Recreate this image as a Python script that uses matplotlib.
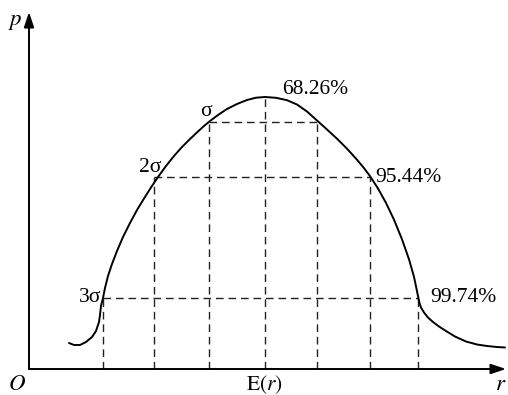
import matplotlib
matplotlib.use("Agg")
import matplotlib.pyplot as plt

plt.rcParams['font.family'] = ['Liberation Serif', 'DejaVu Serif']
plt.rcParams['mathtext.fontset'] = 'stix'

# Probability density curve p(r) (axis origin at O)
curve_r = [40, 45, 51, 57, 63, 67, 70, 71, 72, 74,
           76, 79, 83, 88, 94, 101, 108, 115, 122, 129,
           137, 145, 153, 161, 169, 175, 181,
           189, 198, 208, 218, 227, 236,
           247, 258, 268, 278, 288,
           298, 308, 318, 328, 335, 341,
           349, 357, 365, 373, 380, 385, 389,
           390.5, 392, 395, 399, 404, 410, 417, 426, 437, 448, 458, 468, 476]
curve_p = [26, 24, 24, 27, 32, 38, 47, 54, 63, 71,
           81, 93, 105, 118, 132, 146, 159, 170.5, 181.5, 192,
           203, 213, 222, 230, 237.5, 243, 248,
           254, 260, 265, 269, 271.3, 272,
           271.2, 268.8, 264.5, 257.5, 248.5,
           239.5, 230.3, 220.3, 209.3, 200.9, 192.9,
           180.5, 166.1, 149.3, 129.7, 109.7, 92.2, 73,
           66, 61.5, 56.5, 51.5, 47, 42.5, 38, 32.5, 27.5, 24.5, 23, 22, 21.5]

# Mean E(r) and peak
mean_r = 236
peak_p = 272

# Interval bounds (1σ, 2σ, 3σ) and the density level at each
level_names = ['σ', '2σ', '3σ']
level_pct = ['68.26%', '95.44%', '99.74%']
left_r = [180, 125, 74]
right_r = [288, 341, 389]
level_p = [247, 192, 71]

fig = plt.figure(figsize=(5.08, 3.95), dpi=100)
fig.patch.set_facecolor('white')
ax = fig.add_axes([0, 0, 1, 1])
ax.set_xlim(-29, 479)
ax.set_ylim(-26, 369)
ax.axis('off')

dash = dict(color='#222222', lw=1.0, linestyle=(0, (5.5, 3.5)))

# horizontal dashed lines
for lr, rr, lp in zip(left_r, right_r, level_p):
    ax.plot([lr, rr], [lp, lp], **dash)
# vertical dashed lines
for lr, rr, lp in zip(left_r, right_r, level_p):
    ax.plot([lr, lr], [0, lp], **dash)
    ax.plot([rr, rr], [0, lp], **dash)
ax.plot([mean_r, mean_r], [0, peak_p], **dash)

# curve
ax.plot(curve_r, curve_p, color='black', lw=1.4, solid_joinstyle='round',
        solid_capstyle='round', antialiased=True)

# axes with arrows
arrow = dict(arrowstyle='-|>,head_length=0.9,head_width=0.3', color='black',
             lw=1.4, shrinkA=0, shrinkB=0)
ax.annotate('', xy=(477, 0), xytext=(0, 0), arrowprops=arrow)
ax.annotate('', xy=(0, 357), xytext=(0, 0), arrowprops=arrow)

fs = 15.5
ax.text(-14, 347, '$p$', fontsize=fs + 1, ha='center', va='center')
ax.text(-12, -15, '$O$', fontsize=fs + 1, ha='center', va='center')
ax.text(mean_r - 1, -16, r'$\mathrm{E}(r)$', fontsize=fs, ha='center', va='center')
ax.text(472, -15, '$r$', fontsize=fs + 1, ha='center', va='center')

# sigma labels on left, percentages on right
sig_pos = [(183, 258), (132, 201), (72, 72)]
for name, (x, y) in zip(level_names, sig_pos):
    ax.text(x, y, name, fontsize=fs, ha='right', va='center')
pct_pos = [(253, 279), (346, 192), (401, 72)]
for name, (x, y) in zip(level_pct, pct_pos):
    ax.text(x, y, name, fontsize=fs, ha='left', va='center')

fig.savefig('out.png', dpi=100, facecolor='white')
